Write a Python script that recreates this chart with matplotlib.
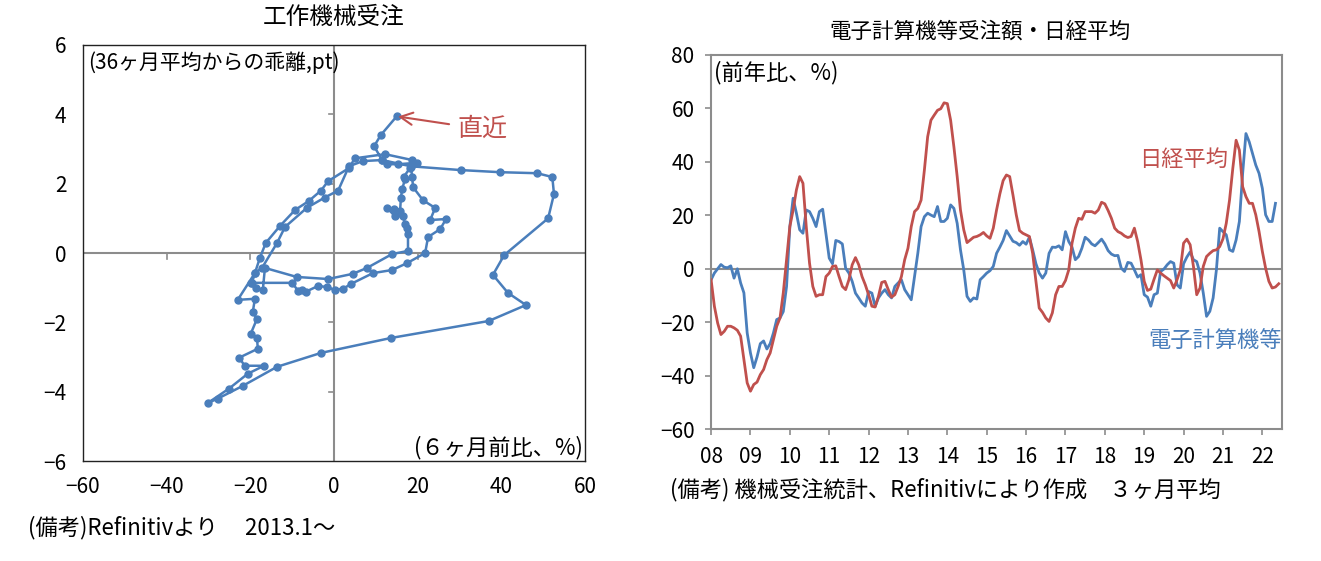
import numpy as np
import matplotlib
matplotlib.use("Agg")
import matplotlib.pyplot as plt

plt.rcParams['font.family'] = ['Noto Sans CJK JP', 'DejaVu Sans']

BLUE = "#4a7ebb"
RED = "#c0504d"
GRAY = "#8c8c8c"

# --- left: machine tool orders, 2013.1 onward (6m change %, deviation from 36m avg pt)
tool_x = [-19.9, -10.0, -8.5, -7.7, -6.8, -3.8, -1.7, 0.2, 2.2, 4.1, 9.3, 13.9,
          17.5, 21.8, 22.5, 25.4, 26.8, 23.0, 24.2, 21.3, 18.9, 18.7, 18.4, 19.9,
          15.3, 12.7, 11.5, 6.9, 3.6, 1.0, -2.2, -6.5, -11.7, -13.6, -17.2, -18.9,
          -19.6, -18.7, -17.0, -16.5, -8.9, -1.4, 4.5, 7.9, 13.9, 17.7,
          17.7, 17.5, 17.0, 16.5, 14.6, 12.7, 14.4, 15.8, 16.0, 16.3, 17.0, 16.7, 18.2, 18.7,
          12.2, 5.0, 3.6, -1.4, -3.1, -6.0, -9.3, -12.9, -16.3, -17.7,
          -18.9, -23.0, -18.9, -19.4, -18.4, -19.9, -18.4, -18.2, -22.7, -21.3, -16.7, -20.6,
          -25.1, -30.1, -27.8, -21.8, -13.6, -3.1, 13.6, 37.0, 45.9,
          41.6, 38.0, 40.7, 51.2, 52.6, 52.2, 48.6, 39.7, 30.4, 18.4,
          11.5, 9.6, 11.2, 15.0]
tool_y = [-0.86, -0.86, -1.10, -1.06, -1.12, -0.95, -0.98, -1.06, -1.03, -0.89, -0.58, -0.49,
          -0.29, 0.0, 0.46, 0.69, 0.98, 0.95, 1.30, 1.52, 1.90, 2.20, 2.47, 2.60,
          2.56, 2.56, 2.68, 2.65, 2.50, 1.80, 1.60, 1.30, 0.75, 0.29, -0.43, -0.58,
          -0.86, -1.00, -1.06, -0.43, -0.69, -0.75, -0.60, -0.43, -0.03, 0.06,
          0.55, 0.72, 0.83, 1.06, 1.06, 1.30, 1.27, 1.20, 1.58, 1.84, 2.13, 2.20, 2.45, 2.68,
          2.85, 2.73, 2.45, 2.07, 1.80, 1.50, 1.24, 0.78, 0.29, -0.14,
          -0.58, -1.35, -1.32, -1.70, -1.90, -2.33, -2.45, -2.76, -3.02, -3.25, -3.25, -3.48,
          -3.91, -4.32, -4.20, -3.83, -3.28, -2.88, -2.45, -1.96, -1.50,
          -1.15, -0.63, -0.06, 1.00, 1.70, 2.19, 2.30, 2.33, 2.39, 2.50,
          2.68, 3.08, 3.40, 3.94]

# --- right: monthly from 2008.1, yoy % (3m avg)
start_year = 2008
computer_orders = [
    -4.1, -1.6, 0, 1.6, 0.6, 0.4, 1.1, -3.5, 0, -5.3, -9, -24, -31.5, -37, -33, -28, -27, -30,
    -28, -24, -19, -18.4, -16, -6.6, 15.8, 26.4, 20.8, 14.6, 13.3, 22, 21.4, 18.9, 15.8, 21.4,
    22.3, 13.3, 4, 1.9, 10.6, 10.2, 9.3, 0.2,
    -1.6, -4.7, -9.1, -10.9, -12.8, -14, -8.5, -9.1, -14, -10.9, -9.1, -7.8, -9.7, -10.9,
    -6.6, -5.3, -4.1, -7.8, -9.7, -11.6, -2.9, 5.8, 15.8, 19.5, 20.8, 20.1, 19.5, 23.3, 17.7,
    17.7, 18.9, 23.9, 22.6, 17, 7.1, -0.4, -10.3, -12.2, -10.9, -11.3, -4.1, -2.9, -1.6, -0.7,
    0.9, 5.8, 8.1, 10.6, 14.3, 12.3, 10.3, 9.8, 8.8, 10.2, 9.2, 11.8, 7.1, 1.9, -1.6, -3.5,
    -1.6, 5.8, 8.1, 8, 8.6, 7.1, 13.9, 10.2, 8.1, 3.4, 4.6, 7.7, 11.8, 10.8, 9.3, 8.6, 9.8,
    11.1, 9.3, 6.8, 5.5, 4.9, 5, 0.2, -1, 2.4, 2.1, -0.4, -3.1, -2.2, -9.7, -10.6, -14, -9.7,
    -9.1, -1, -0.1, 1.5, 2.7, 2.1, -6, -7.2, 1.9, 4.4, 6.3, 3.4, 2.7, -1.6, -9.1, -17.8,
    -15.9, -10.9, -0.4, 15.2, 13.9, 12.7, 7.1, 6.5, 10.8, 17.7, 35.7, 50.6, 47.5, 43.2, 38.8,
    35.7, 30.1, 20.2, 17.7, 17.7, 24.5]
nikkei = [
    -4.1, -14, -20.3, -24.6, -23.4, -21.5, -21.5, -22.1, -23, -25.2, -34, -42.7, -45.8, -43.3,
    -42.4, -39.6, -37.7, -34, -31.5, -26.5, -21.5, -18.4, -9, 3.4, 15.8, 22, 29.5, 34.5, 32,
    15.8, 2.1, -6.6, -10.3, -9.7, -9.7, -2.9, -1.6, 0.9, 1.1, -2.9, -6.6, -7.8,
    -4.1, 1.5, 4.2, 1.5, -2.9, -6, -9.7, -14, -14.3, -10.3, -5.1, -4.7, -7.8, -10.6, -9.7,
    -6.6, -2.9, 3.4, 7.7, 15.8, 21.4, 22.6, 25.7, 36.9, 49.4, 55.6, 57.5, 59.3, 59.9, 62.1,
    61.8, 55.6, 45.6, 34.5, 22, 14.6, 9.8, 10.8, 11.8, 12.1, 12.7, 13.6, 12.3, 11.4,
    15.2, 22, 28, 33, 35.1, 34.5, 27.6, 20.2, 14.3, 13.3, 12.7, 12.1, 5.8, -4.7, -14.7, -16.3,
    -18.4, -19.7, -16.5, -9.7, -6.6, -6.6, -4.4, -0.4, 9.6, 15.2, 18.9, 18.5, 21.4, 21.4,
    21.4, 20.8, 22, 24.9, 24.3, 21.8, 18.9, 15.2, 13.9, 13.3, 12.3, 11.7, 12.1, 15.2, 10.2,
    3.4, -4.7, -8.1, -7.6, -3.9, -0.4, -1.6, -2.6, -3.5, -4.4, -7.2, -4.1, -0.4, 9.6, 11.1,
    9, 0.9, -9.7, -7.2, 0.9, 4.6, 5.8, 6.8, 7.1, 8.3, 11.2, 17, 25.7, 37.6, 48.1, 44.4,
    30.7, 27, 24.5, 24.5, 20.2, 13.9, 6.5, 0.2, -4.7, -7.2, -6.8, -5.6]
year_labels = ["08", "09", "10", "11", "12", "13", "14", "15", "16", "17", "18", "19", "20", "21", "22"]

fig = plt.figure(figsize=(13.21, 5.61), dpi=100)

# ---------------- left panel
ax1 = fig.add_axes([0.0628, 0.178, 0.38, 0.742])
ax1.set_xlim(-60, 60)
ax1.set_ylim(-6, 6)
ax1.axhline(0, color=GRAY, lw=1.5, zorder=1)
ax1.axvline(0, color=GRAY, lw=1.5, zorder=1)
for t in [-40, -20, 20, 40]:
    ax1.plot([t, t], [0, -0.17], color=GRAY, lw=1.2, zorder=1)
for t in [-4, -2, 2, 4]:
    ax1.plot([0, -1.3], [t, t], color=GRAY, lw=1.2, zorder=1)
ax1.plot(tool_x, tool_y, color=BLUE, lw=1.8, marker="o", ms=5, zorder=3)
ax1.set_xticks(np.arange(-60, 61, 20))
ax1.set_yticks(np.arange(-6, 7, 2))
ax1.tick_params(length=0, labelsize=15, colors="black")
ax1.tick_params(axis="x", pad=11)
ax1.tick_params(axis="y", pad=12)
for s in ax1.spines.values():
    s.set_color("#222222")
    s.set_linewidth(1.0)
ax1.text(0.01, 0.985, "(36ヶ月平均からの乖離,pt)", transform=ax1.transAxes,
         fontsize=15, va="top", ha="left")
ax1.text(0.995, 0.005, "(６ヶ月前比、%)", transform=ax1.transAxes,
         fontsize=16, va="bottom", ha="right")
ax1.annotate("直近", xy=(tool_x[-1], tool_y[-1]), xytext=(29.5, 3.57),
             color=RED, fontsize=18, va="center", ha="left",
             arrowprops=dict(arrowstyle="->", color=RED, lw=1.5,
                             shrinkA=4, shrinkB=1, mutation_scale=22))
fig.text(334 / 1321, 1 - 18 / 561, "工作機械受注", ha="center", va="center", fontsize=17)
fig.text(28 / 1321, 1 - 528 / 561, "(備考)Refinitivより　 2013.1～", ha="left", va="center", fontsize=16)

# ---------------- right panel
months_c = start_year + np.arange(len(computer_orders)) / 12
months_n = start_year + np.arange(len(nikkei)) / 12
ax2 = fig.add_axes([0.5383, 0.235, 0.4322, 0.667])
ax2.set_xlim(start_year, start_year + 174 / 12)
ax2.set_ylim(-60, 80)
ax2.axhline(0, color=GRAY, lw=1.5, zorder=1)
ax2.plot(months_n, nikkei, color=RED, lw=2.0, zorder=3)
ax2.plot(months_c, computer_orders, color=BLUE, lw=2.0, zorder=2)
ax2.set_yticks(np.arange(-60, 81, 20))
ax2.set_xticks(start_year + np.arange(len(year_labels)))
ax2.set_xticklabels(year_labels)
ax2.tick_params(labelsize=15, length=4, color=GRAY, width=1.2)
ax2.tick_params(axis="y", pad=8)
ax2.tick_params(axis="x", pad=8)
for s in ax2.spines.values():
    s.set_color(GRAY)
    s.set_linewidth(1.5)
ax2.text(0.005, 0.985, "(前年比、%)", transform=ax2.transAxes, fontsize=16, va="top", ha="left")
ax2.text(2018.88, 41, "日経平均", color=RED, fontsize=16, va="center", ha="left")
ax2.text(2022.5, -27, "電子計算機等", color=BLUE, fontsize=16, va="center", ha="right")
fig.text(980 / 1321, 1 - 32 / 561, "電子計算機等受注額・日経平均", ha="center", va="center", fontsize=15.5)
fig.text(670 / 1321, 1 - 490 / 561, "(備考) 機械受注統計、Refinitivにより作成　３ヶ月平均",
         ha="left", va="center", fontsize=16)

fig.savefig("out.png", dpi=100)
